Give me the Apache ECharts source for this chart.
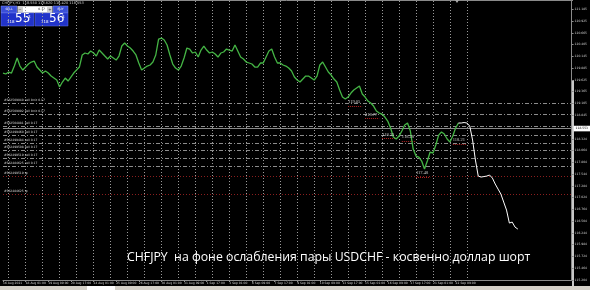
<!DOCTYPE html>
<html><head><meta charset="utf-8">
<script src="https://cdn.jsdelivr.net/npm/echarts@6/dist/echarts.min.js"></script>
<style>html,body{margin:0;padding:0;background:#000;}#c{width:590px;height:290px;}</style>
</head><body><div id="c"></div>
<script>
// x tick labels (every 32 H1 bars = every 8 slots of 4 bars)
const timeLabels = ["16 Aug 2021","18 Aug 01:00","19 Aug 09:00","20 Aug 17:00","24 Aug 01:00","25 Aug 09:00","26 Aug 17:00","30 Aug 01:00","31 Aug 09:00","1 Sep 17:00","3 Sep 01:00","6 Sep 09:00","7 Sep 17:00","9 Sep 01:00","10 Sep 09:00","13 Sep 17:00","15 Sep 01:00","16 Sep 09:00","17 Sep 17:00","21 Sep 01:00","22 Sep 09:00"];
// CHFJPY close every 4 hours
const closes = [119.777,119.755,119.799,119.777,119.931,120.108,119.931,119.843,119.909,119.976,
120.020,120.042,119.909,119.843,119.777,119.821,119.777,119.710,119.666,119.622,
119.467,119.578,119.666,119.600,119.688,119.777,119.843,119.909,120.175,120.219,
120.197,120.263,120.219,120.152,120.285,120.219,120.152,120.086,120.152,120.108,
120.064,120.152,120.373,120.440,120.373,120.329,120.263,120.175,119.998,119.843,
119.887,119.931,119.954,120.020,120.175,120.528,120.550,120.506,120.396,120.175,
119.976,119.887,119.843,119.931,120.108,120.329,120.307,120.219,120.241,120.130,
120.285,120.373,120.285,120.219,120.241,120.197,120.130,120.219,120.241,120.307,
120.285,120.263,120.396,120.263,120.130,120.086,120.020,119.998,119.976,119.909,
119.909,119.998,119.998,120.130,120.263,120.307,120.130,119.998,119.998,119.954,
119.931,119.887,119.821,119.688,119.622,119.578,119.644,119.710,119.710,119.666,
119.622,119.710,119.954,120.020,119.909,119.799,119.733,119.644,119.578,119.401,
119.246,119.202,119.246,119.335,119.401,119.445,119.489,119.313,119.246,119.158,
119.114,119.047,118.937,118.893,118.871,118.804,118.716,118.561,118.362,118.318,
118.384,118.495,118.628,118.672,118.495,118.097,117.942,117.920,117.832,117.655,
117.832,118.031,118.009,118.186,118.406,118.473,118.429,118.318,118.252,118.384,
118.561,118.672];
// hand-drawn forecast (white), starts at the last close slot
const forecastStart = 161;
const forecast = [118.672,118.672,118.683,118.672,118.605,118.296,117.854,117.500,117.478,117.489,
117.500,117.523,117.456,117.324,117.213,117.103,116.926,116.749,116.462,116.484,116.373,116.329];
const totalSlots = 202;
const yTicks = [121.185,120.925,120.665,120.405,120.145,119.885,119.625,119.365,119.105,118.845,
118.324,118.064,117.804,117.544,117.284,117.024,116.764,116.504,116.244,115.984,115.724,115.464,115.204];
const bidPrice = 118.553;
const orderPrices = [119.114,118.871,118.606,118.407,118.231,118.076,117.899,117.723];
const orderTexts = ["#582509040 sell limit 0.17","#582509092 sell limit 0.17","#582504881 sell 0.17","#582499460 sell 0.17","#582499484 sell 0.17","#582499508 sell 0.17","#582499519 sell 0.17","#582484625 sell 0.17"];
const tpPrices = [117.502,117.104];
const tpTexts = ["#582499519 tp","#582484625 tp"];
const annIdx = [122,128,134,141,146,159];
const annVal = [119.05,118.77,118.33,118.28,117.48,118.21];

const cats = Array.from({length: totalSlots}, (_, i) => String(i));
const green = cats.map((_, i) => i < closes.length ? closes[i] : null);
const white = cats.map((_, i) => (i >= forecastStart && i < forecastStart + forecast.length) ? forecast[i - forecastStart] : null);

const chart = echarts.init(document.getElementById('c'), null, {renderer: 'canvas'});
const lblFont = {fontSize: 3, fontFamily: 'DejaVu Sans'};

const markData = [];
orderPrices.forEach((p, k) => markData.push({
  yAxis: p,
  lineStyle: {color: '#8c8c8c', type: [4, 2, 1, 2], width: 1},
  label: Object.assign({show: true, position: 'insideStartTop', formatter: orderTexts[k], color: '#d8d8d8', distance: 1}, lblFont)
}));
tpPrices.forEach((p, k) => markData.push({
  yAxis: p,
  lineStyle: {color: '#8a1e1e', type: [1, 2], width: 1},
  label: Object.assign({show: true, position: 'insideStartTop', formatter: tpTexts[k], color: '#d8d8d8', distance: 1}, lblFont)
}));
markData.push({
  yAxis: bidPrice,
  lineStyle: {color: '#8a8a8a', type: 'solid', width: 1},
  label: Object.assign({show: true, position: 'end', formatter: bidPrice.toFixed(3), color: '#000', backgroundColor: '#fff', padding: [1.3, 2], distance: 2}, lblFont)
});
annIdx.forEach((ix, k) => markData.push([
  {coord: [String(ix), annVal[k]], lineStyle: {color: '#b02020', type: [1, 1], width: 1}, label: {show: false}},
  {coord: [String(ix + 5), annVal[k]]}
]));

chart.setOption({
  backgroundColor: '#000',
  animation: false,
  grid: {left: 0, right: 17, top: 1, bottom: 10},
  xAxis: {
    type: 'category', data: cats, boundaryGap: false,
    axisLine: {show: true, lineStyle: {color: '#8a8a8a'}},
    axisTick: {show: true, length: 2, interval: (i) => i % 8 === 0 && i / 8 < timeLabels.length, lineStyle: {color: '#8a8a8a'}},
    axisLabel: Object.assign({interval: (i) => i % 8 === 0 && i / 8 < timeLabels.length, formatter: (v, i) => timeLabels[Number(v) / 8] || '', color: '#d0d0d0', align: 'left', margin: 1.5}, lblFont),
    splitLine: {show: true, interval: (i) => i >= 2 && (i - 2) % 6 === 0 && i <= 164, lineStyle: {color: '#9a9a9a', type: [1, 2], width: 1}}
  },
  yAxis: {
    type: 'value', position: 'right', min: 115.204, max: 121.368, scale: true,
    axisLine: {show: true, lineStyle: {color: '#8a8a8a'}},
    axisTick: {show: true, length: 2, customValues: yTicks, lineStyle: {color: '#8a8a8a'}},
    axisLabel: Object.assign({customValues: yTicks, color: '#d0d0d0', margin: 3, formatter: (v) => v.toFixed(3)}, lblFont),
    splitLine: {show: false}
  },
  series: [
    {type: 'line', data: green, showSymbol: false, symbol: 'none', lineStyle: {color: '#45b545', width: 1.3}, z: 3,
     markLine: {silent: true, symbol: ['none', 'none'], data: markData, z: 2}},
    {type: 'line', data: white, showSymbol: false, symbol: 'none', lineStyle: {color: '#ffffff', width: 1}, z: 4},
    {type: 'scatter', symbolSize: 0, data: annIdx.map((ix, k) => [String(ix), annVal[k]]), z: 5,
     label: {show: true, position: [0, -1.5], align: 'left', verticalAlign: 'bottom', formatter: (p) => p.value[1].toFixed(2), color: '#f0f0f0', fontSize: 4.5, fontFamily: 'Liberation Serif'}}
  ],
  graphic: [
    {type: 'line', shape: {x1: 0, y1: 0.5, x2: 573, y2: 0.5}, style: {stroke: '#8a8a8a', lineWidth: 1}},
    {type: 'polygon', shape: {points: [[455, 0], [459, 0], [457, 3]]}, style: {fill: '#aaaaaa'}},
    {type: 'rect', shape: {x: 572, y: 80, width: 2, height: 206}, style: {fill: '#c8c8c8'}},
    {type: 'rect', shape: {x: 0, y: 286, width: 590, height: 4}, style: {fill: '#d4d0c8'}},
    {type: 'rect', shape: {x: 87, y: 286, width: 28, height: 4}, style: {fill: '#ffffff'}},
    {type: 'text', style: {x: 2, y: 1, text: 'CHFJPY,H1  118.550 118.620 118.420 118.553', fill: '#d0d0d0', font: '3.5px DejaVu Sans'}},
    // one-click trading panel
    {type: 'rect', shape: {x: 1, y: 6, width: 16, height: 7}, style: {fill: '#3a4fd8', stroke: '#8090f0', lineWidth: 0.5}},
    {type: 'text', style: {x: 9, y: 9.5, text: 'SELL', fill: '#fff', font: '3px DejaVu Sans', align: 'center', verticalAlign: 'middle'}},
    {type: 'rect', shape: {x: 17.5, y: 6, width: 35, height: 7}, style: {fill: '#cfcfcf'}},
    {type: 'rect', shape: {x: 23, y: 7, width: 24, height: 5}, style: {fill: '#ffffff'}},
    {type: 'text', style: {x: 20, y: 9.5, text: '−', fill: '#333', font: '4px DejaVu Sans', align: 'center', verticalAlign: 'middle'}},
    {type: 'text', style: {x: 45, y: 9.5, text: '0.17', fill: '#222', font: '3px DejaVu Sans', align: 'right', verticalAlign: 'middle'}},
    {type: 'text', style: {x: 50, y: 9.5, text: '+', fill: '#333', font: '4px DejaVu Sans', align: 'center', verticalAlign: 'middle'}},
    {type: 'rect', shape: {x: 53, y: 6, width: 15, height: 7}, style: {fill: '#3a4fd8', stroke: '#8090f0', lineWidth: 0.5}},
    {type: 'text', style: {x: 60.5, y: 9.5, text: 'BUY', fill: '#fff', font: '3px DejaVu Sans', align: 'center', verticalAlign: 'middle'}},
    {type: 'rect', shape: {x: 1, y: 13, width: 33, height: 13}, style: {fill: '#2133c9', stroke: '#6070e8', lineWidth: 0.5}},
    {type: 'rect', shape: {x: 35, y: 13, width: 33, height: 13}, style: {fill: '#2133c9', stroke: '#6070e8', lineWidth: 0.5}},
    {type: 'text', style: {x: 7, y: 24, text: '118', fill: '#fff', font: '4px DejaVu Sans', verticalAlign: 'bottom'}},
    {type: 'text', style: {x: 15, y: 25, text: '55', fill: '#fff', font: '12px DejaVu Sans', verticalAlign: 'bottom'}},
    {type: 'text', style: {x: 28, y: 14.5, text: '3', fill: '#fff', font: '4px DejaVu Sans'}},
    {type: 'text', style: {x: 41, y: 24, text: '118', fill: '#fff', font: '4px DejaVu Sans', verticalAlign: 'bottom'}},
    {type: 'text', style: {x: 49, y: 25, text: '56', fill: '#fff', font: '12px DejaVu Sans', verticalAlign: 'bottom'}},
    {type: 'text', style: {x: 62, y: 14.5, text: '3', fill: '#fff', font: '4px DejaVu Sans'}},
    // caption
    {type: 'text', style: {x: 127, y: 257, text: 'CHFJPY  на фоне ослабления пары USDCHF - косвенно доллар шорт', fill: '#ffffff', font: '12.3px Open Sans', verticalAlign: 'middle'}}
  ]
});
</script></body></html>
